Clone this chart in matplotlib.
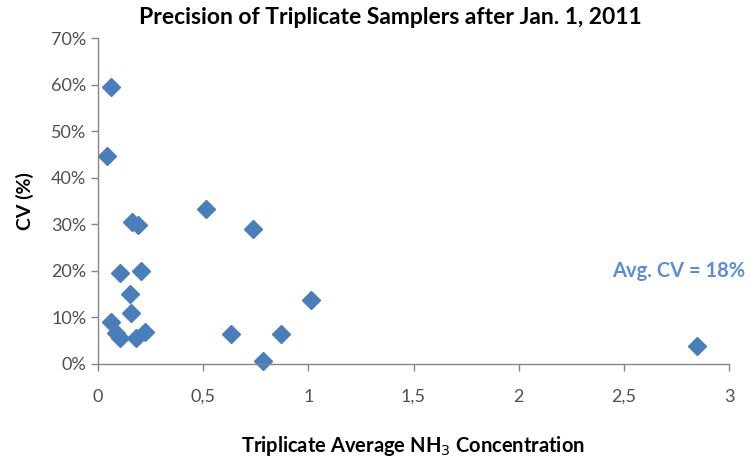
import matplotlib
matplotlib.use("Agg")
import matplotlib.pyplot as plt
from matplotlib.ticker import FuncFormatter, MultipleLocator

plt.rcParams['font.family'] = ['Lato', 'DejaVu Sans']

title = "Precision of Triplicate Samplers after Jan. 1, 2011"
xlabel = "Triplicate Average NH$_3$ Concentration"
ylabel = "CV (%)"
note = "Avg. CV = 18%"

conc = [0.063, 0.044, 0.512, 0.736, 0.160, 0.192, 0.105, 0.203, 0.154,
        0.158, 0.063, 0.086, 0.105, 0.179, 0.223, 0.634, 0.783, 0.870,
        1.014, 2.847]
cv = [59.6, 44.6, 33.3, 28.9, 30.6, 29.9, 19.5, 20.0, 15.1,
      10.9, 9.1, 6.6, 5.5, 5.6, 6.9, 6.5, 0.7, 6.5,
      13.8, 3.8]

fig = plt.figure(figsize=(7.5, 4.59), dpi=100)
ax = fig.add_axes([0.1307, 0.207, 0.972 - 0.1307, 0.917 - 0.207])

ax.plot(conc, cv, linestyle='none', marker='D', markersize=9,
        color='#4A7EBB', markeredgecolor='#4A7EBB', clip_on=False)

ax.set_xlim(0, 3)
ax.set_ylim(0, 70)
ax.xaxis.set_major_locator(MultipleLocator(0.5))
ax.yaxis.set_major_locator(MultipleLocator(10))
ax.xaxis.set_major_formatter(FuncFormatter(lambda v, p: ('%g' % v).replace('.', ',')))
ax.yaxis.set_major_formatter(FuncFormatter(lambda v, p: '%d%%' % v))

for s in ['top', 'right']:
    ax.spines[s].set_visible(False)
for s in ['left', 'bottom']:
    ax.spines[s].set_color('#868686')
    ax.spines[s].set_linewidth(1.0)
ax.tick_params(axis='both', direction='out', length=5, color='#868686',
               labelcolor='#505050', labelsize=13, width=1.0)
ax.tick_params(axis='x', pad=13)

fig.text(0.551, 1 - 446 / 459, xlabel, fontsize=14.5, fontweight='bold',
         ha='center', va='center')
fig.text(25 / 750, 1 - 201 / 459, ylabel, fontsize=14, fontweight='bold',
         ha='center', va='center', rotation=90)
fig.text(0.52, 1 - 18 / 459, title, fontsize=16.5, fontweight='bold',
         ha='center', va='center')

fig.text(0.993, 1 - 271 / 459, note, fontsize=14.5, fontweight='bold',
         color='#5B8DD6', ha='right', va='center')

fig.savefig('out.png', dpi=100)
